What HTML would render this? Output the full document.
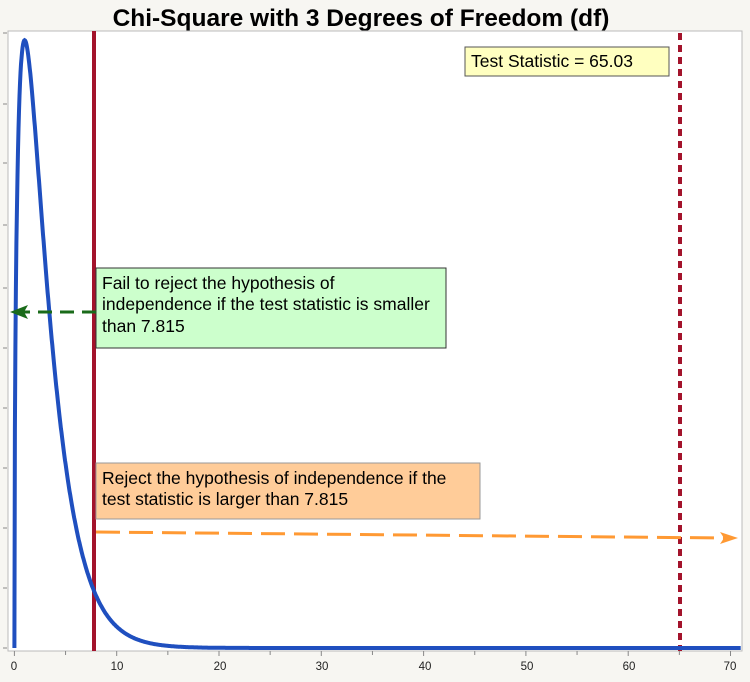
<!DOCTYPE html><html><head><style>body{margin:0;background:#f7f6f2;font-family:"Liberation Sans",sans-serif}</style></head><body>
<svg width="750" height="682" xmlns="http://www.w3.org/2000/svg" style="display:block">
<text x="361" y="26" text-anchor="middle" font-size="24.5" font-weight="bold" font-family="Liberation Sans">Chi-Square with 3 Degrees of Freedom (df)</text>
<rect x="8" y="31" width="734" height="620" fill="#fff" stroke="#bbb"/>
<g id="yt" stroke="#888"></g>
<g id="xt" stroke="#888"></g>
<g font-size="11.5" text-anchor="middle" fill="#222">
<text x="14" y="670">0</text><text x="117" y="670">10</text><text x="220" y="670">20</text><text x="322" y="670">30</text><text x="425" y="670">40</text><text x="527" y="670">50</text><text x="629" y="670">60</text><text x="730" y="670">70</text></g>
<line x1="94" y1="31" x2="94" y2="651" stroke="#a3132b" stroke-width="4"/>
<line x1="680" y1="33" x2="680" y2="651" stroke="#a3132b" stroke-width="4" stroke-dasharray="7,5"/>
<path id="curve" fill="none" stroke="#1f4fbf" stroke-width="4"/>
<rect x="465" y="47" width="204" height="29" fill="#ffffc0" stroke="#555"/>
<text x="471" y="67" font-size="17.5">Test Statistic = 65.03</text>
<rect x="96" y="268" width="350" height="80" fill="#ccffcc" stroke="#333"/>
<text font-size="17.5"><tspan x="102" y="289">Fail to reject the hypothesis of</tspan><tspan x="102" y="310">independence if the test statistic is smaller</tspan><tspan x="102" y="332">than 7.815</tspan></text>
<line x1="96" y1="312" x2="22" y2="312" stroke="#1a6b1a" stroke-width="3" stroke-dasharray="14,8"/>
<path d="M10 312 L28 305 L24 312 L28 319 Z" fill="#1a6b1a"/>
<rect x="96" y="463" width="384" height="56" fill="#ffcc99" stroke="#999"/>
<text font-size="17.5"><tspan x="102" y="484">Reject the hypothesis of independence if the</tspan><tspan x="102" y="505">test statistic is larger than 7.815</tspan></text>
<line x1="96" y1="532" x2="725" y2="538" stroke="#ff9933" stroke-width="3" stroke-dasharray="24,9"/>
<path d="M738 538 L720 532 L724 538 L720 544 Z" fill="#ff9933"/>
</svg>
<script>
var d="";for(var i=0;i<=1420;i++){var x=i*0.05;var f=Math.sqrt(x)*Math.exp(-x/2)/Math.sqrt(2*Math.PI);var px=14.4+x*10.23,py=648-f*2512;d+=(i?"L":"M")+px.toFixed(1)+" "+py.toFixed(1);}
document.getElementById("curve").setAttribute("d",d);
var yt="";[648,588,528,468,408,348,288,225,163,104,33].forEach(function(y){yt+='<line x1="3" y1="'+y+'" x2="7" y2="'+y+'"/>';});
document.getElementById("yt").innerHTML=yt;
var xt="";for(var k=0;k<=14;k++){var px=14.4+k*5*10.23;xt+='<line x1="'+px+'" y1="651" x2="'+px+'" y2="'+(k%2?655:656)+'"/>';}
document.getElementById("xt").innerHTML=xt;
</script>
</body></html>
